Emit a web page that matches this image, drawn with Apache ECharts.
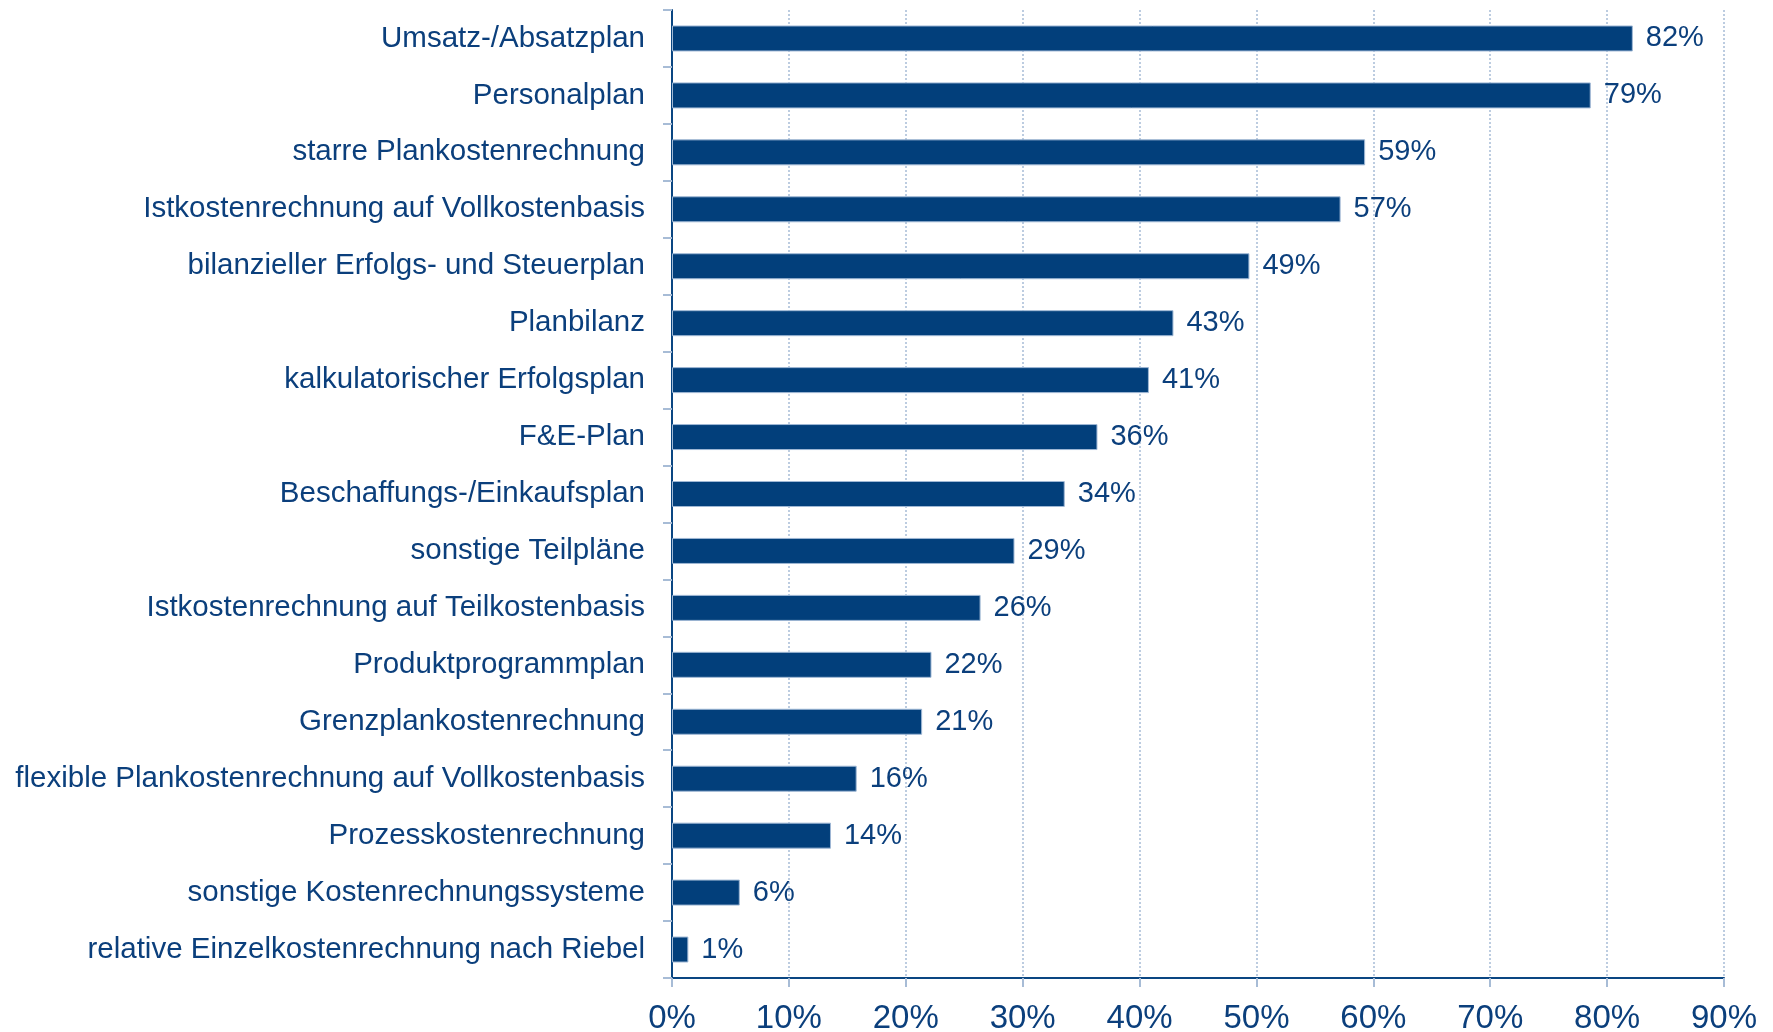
<!DOCTYPE html>
<html>
<head>
<meta charset="utf-8">
<script src="https://cdn.jsdelivr.net/npm/echarts@6/dist/echarts.min.js"></script>
<style>
  html, body { margin: 0; padding: 0; background: #fff; }
  #chart { width: 1773px; height: 1032px; }
</style>
</head>
<body>
<div id="chart"></div>
<script>
// categories top to bottom
var categories = [
	'Umsatz-/Absatzplan',
	'Personalplan',
	'starre Plankostenrechnung',
	'Istkostenrechnung auf Vollkostenbasis',
	'bilanzieller Erfolgs- und Steuerplan',
	'Planbilanz',
	'kalkulatorischer Erfolgsplan',
	'F&E-Plan',
	'Beschaffungs-/Einkaufsplan',
	'sonstige Teilpläne',
	'Istkostenrechnung auf Teilkostenbasis',
	'Produktprogrammplan',
	'Grenzplankostenrechnung',
	'flexible Plankostenrechnung auf Vollkostenbasis',
	'Prozesskostenrechnung',
	'sonstige Kostenrechnungssysteme',
	'relative Einzelkostenrechnung nach Riebel'
];
// share in percent (bar lengths, labels rounded)
var values = [82.2, 78.6, 59.3, 57.2, 49.4, 42.9, 40.8, 36.4, 33.6, 29.3, 26.4, 22.2, 21.4, 15.8, 13.6, 5.8, 1.4];
var xTicks = [0, 10, 20, 30, 40, 50, 60, 70, 80, 90];

var textColor = '#0b3f7c';
var barColor = '#023f7b';
var lightLine = '#a7bcd6';

var chart = echarts.init(document.getElementById('chart'));
chart.setOption({
	animation: false,
	grid: { left: 672, right: 49, top: 10, bottom: 54, containLabel: false, outerBoundsMode: 'none' },
	xAxis: {
		type: 'value',
		min: xTicks[0],
		max: xTicks[xTicks.length - 1],
		interval: 10,
		axisLine: { show: true, lineStyle: { color: '#0a4682', width: 2 } },
		axisTick: { show: true, length: 9, lineStyle: { color: lightLine, width: 2 } },
		axisLabel: {
			margin: 24,
			color: textColor,
			fontSize: 33,
			fontFamily: "'Liberation Sans Narrow', 'Liberation Sans', Arial, sans-serif",
			formatter: '{value}%'
		},
		splitLine: { show: true, lineStyle: { color: lightLine, width: 1.5, type: [2, 2] } }
	},
	yAxis: {
		type: 'category',
		data: categories,
		inverse: true,
		axisLine: { show: true, lineStyle: { color: '#0a4682', width: 2 } },
		axisTick: { show: true, length: 9, lineStyle: { color: lightLine, width: 2 } },
		axisLabel: {
			margin: 27,
			color: textColor,
			fontSize: 29.5,
			padding: [6, 0, 0, 0],
			fontFamily: "'Liberation Sans', Arial, sans-serif"
		},
		splitLine: { show: false }
	},
	series: [{
		type: 'bar',
		data: values,
		barWidth: 26,
		itemStyle: { color: barColor, borderColor: '#9fb8d5', borderWidth: 1 },
		label: {
			show: true,
			position: 'right',
			distance: 13,
			color: textColor,
			fontSize: 29,
			padding: [6, 0, 0, 0],
			fontFamily: "'Liberation Sans', Arial, sans-serif",
			formatter: function(p) { return Math.round(p.value) + '%'; }
		}
	}]
});
</script>
</body>
</html>
